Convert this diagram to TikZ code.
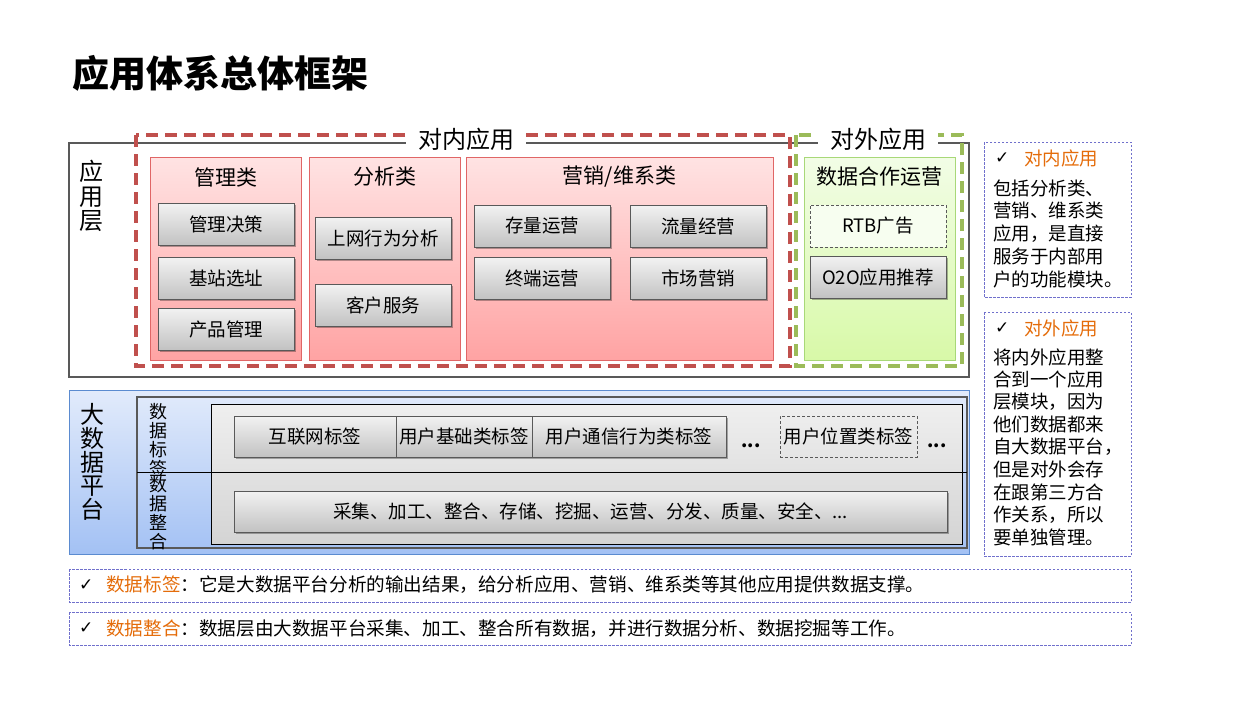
\documentclass[tikz,border=0pt]{standalone}
\usepackage{fontspec}
\setmainfont{Noto Sans CJK SC}
\newfontfamily\symfont{DejaVu Sans}
\usetikzlibrary{shadows}
\newcommand\myfs[1]{\fontsize{#1}{#1}\selectfont}
\definecolor{framegray}{HTML}{595959}
\definecolor{reddash}{HTML}{C0504D}
\definecolor{greendash}{HTML}{9BBB59}
\definecolor{redtop}{HTML}{FFE3E3}
\definecolor{redbot}{HTML}{FFA3A3}
\definecolor{redborder}{HTML}{E06666}
\definecolor{greentop}{HTML}{F2FDE6}
\definecolor{greenbot}{HTML}{D8F9A8}
\definecolor{greenborder}{HTML}{A8D878}
\definecolor{bluetop}{HTML}{E2EBFB}
\definecolor{bluebot}{HTML}{A3C1F4}
\definecolor{blueborder}{HTML}{5B8BD0}
\definecolor{gtop}{HTML}{F2F2F2}
\definecolor{gbot}{HTML}{C2C2C2}
\definecolor{ctop}{HTML}{EFEFEF}
\definecolor{cbot}{HTML}{D4D4D4}
\definecolor{notedash}{HTML}{7070CC}
\definecolor{noteorange}{HTML}{E46C0A}
\begin{document}
\begin{tikzpicture}[x=1pt,y=-1pt,
  gbox/.style={draw=framegray, line width=0.8pt, top color=gtop, bottom color=gbot,
    minimum width=136pt, minimum height=42pt, inner sep=0pt, font=\myfs{18.5},
    drop shadow={shadow xshift=1.5pt, shadow yshift=-1.5pt, opacity=0.3, fill=black}},
  dbox/.style={draw=framegray, line width=0.8pt, dash pattern=on 3pt off 2pt,
    minimum width=136pt, minimum height=42pt, inner sep=0pt, font=\myfs{18.5}},
  redpanel/.style={draw=redborder, line width=0.8pt, top color=redtop, bottom color=redbot,
    minimum height=203pt, inner sep=0pt},
  greenpanel/.style={draw=greenborder, line width=0.8pt, top color=greentop, bottom color=greenbot,
    minimum height=203pt, inner sep=0pt},
  ptitle/.style={font=\myfs{21}, inner sep=0pt},
  grouplabel/.style={fill=white, font=\myfs{24}, inner xsep=12pt, inner ysep=1pt},
  vlabel/.style={align=center, inner sep=0pt},
  notebox/.style={draw=notedash, line width=0.8pt, dash pattern=on 2.5pt off 1.5pt},
  notetext/.style={anchor=west, inner sep=0pt, font=\myfs{18.5}},
  checkmk/.style={anchor=west, inner sep=0pt, font=\symfont\bfseries\myfs{17}},
  dots/.style={inner sep=0pt, font=\bfseries\myfs{18}}
]
\useasboundingbox (0,0) rectangle (1248,720);

% title
\node[anchor=west, inner sep=0pt, font=\bfseries\myfs{37}] (title) at (72,73) {应用体系总体框架};

% application layer frame
\draw[framegray, line width=2pt] (69,143) rectangle (969,377);
\draw[reddash, line width=3.5pt, dash pattern=on 12pt off 7pt] (136,135) rectangle (790,366);
\draw[greendash, line width=3.5pt, dash pattern=on 12pt off 7pt] (796,135) rectangle (962,366);

\node[vlabel, font=\fontsize{24}{24.5}\selectfont] (yyc) at (91,196) {应\\用\\层};

% panels
\node[redpanel, minimum width=151pt] (p1) at (225.5,258.5) {};
\node[redpanel, minimum width=151pt] (p2) at (384.5,258.5) {};
\node[redpanel, minimum width=307pt] (p3) at (619.5,258.5) {};
\node[greenpanel, minimum width=151pt] (p4) at (879.5,258.5) {};

\node[ptitle] (t1) at (225.5,177) {管理类};
\node[ptitle] (t2) at (384.5,177) {分析类};
\node[ptitle] (t3) at (619.5,177) {营销/维系类};
\node[ptitle] (t4) at (879.5,177) {数据合作运营};

% boxes
\node[gbox] (b1) at (226,224) {管理决策};
\node[gbox] (b2) at (226,278.5) {基站选址};
\node[gbox] (b3) at (226,329) {产品管理};
\node[gbox] (b4) at (383,238) {上网行为分析};
\node[gbox] (b5) at (383,305) {客户服务};
\node[gbox] (b6) at (542,226) {存量运营};
\node[gbox] (b7) at (698,226) {流量经营};
\node[gbox] (b8) at (542,278.5) {终端运营};
\node[gbox] (b9) at (698,278.5) {市场营销};
\node[dbox, fill=greentop!60!white] (b10) at (878,226) {RTB广告};
\node[gbox] (b11) at (878,277) {O2O应用推荐};

% group labels
\node[grouplabel] (inner) at (466,139) {对内应用};
\node[grouplabel] (outer) at (878,139) {对外应用};

% big data platform
\draw[blueborder, line width=1pt, top color=bluetop, bottom color=bluebot] (69,390) rectangle (969,554);
\draw[framegray, line width=2pt] (137,397) rectangle (967,548);
\draw[black, line width=0.8pt, top color=ctop, bottom color=cbot] (211,404) rectangle (962,544);
\draw[black, line width=0.8pt] (137,472) -- (967,472);

\node[vlabel, font=\fontsize{24}{23.8}\selectfont] (dsj) at (92,462) {大\\数\\据\\平\\台};
\node[vlabel, font=\fontsize{18}{18.8}\selectfont] (sjbq) at (158,440) {数\\据\\标\\签};
\node[vlabel, font=\fontsize{18}{18.8}\selectfont] (sjzh) at (158,513) {数\\据\\整\\合};

\node[gbox, minimum width=162pt, minimum height=41pt] (tg1) at (315,436.5) {互联网标签};
\node[gbox, minimum width=136pt, minimum height=41pt] (tg2) at (464,436.5) {用户基础类标签};
\node[gbox, minimum width=194pt, minimum height=41pt] (tg3) at (629,436.5) {用户通信行为类标签};
\node[dots] (el1) at (751,446) {...};
\node[dbox, minimum width=137pt, minimum height=41pt] (tg4) at (848.5,436.5) {用户位置类标签};
\node[dots] (el2) at (937,446) {...};
\node[gbox, minimum width=713pt, minimum height=41pt] (bar) at (590.5,511.5) {采集、加工、整合、存储、挖掘、运营、分发、质量、安全、...};

% right notes
\draw[notebox] (984,142) rectangle (1131,297);
\node[checkmk] (ck1) at (995,158) {✓};
\node[notetext, text=noteorange] (h1) at (1024,158) {对内应用};
\foreach \t [count=\i] in {包括分析类、,营销、维系类,应用，是直接,服务于内部用,户的功能模块。}
  \node[notetext] (na\i) at (993,{188+(\i-1)*22.8}) {\t};

\draw[notebox] (984,312) rectangle (1131,556);
\node[checkmk] (ck2) at (995,328) {✓};
\node[notetext, text=noteorange] (h2) at (1024,328) {对外应用};
\foreach \t [count=\i] in {将内外应用整,合到一个应用,层模块，因为,他们数据都来,自大数据平台，,但是对外会存,在跟第三方合,作关系，所以,要单独管理。}
  \node[notetext] (nb\i) at (993,{357+(\i-1)*22.5}) {\t};

% bottom notes
\draw[notebox] (69,569) rectangle (1131,602);
\node[checkmk] (ck3) at (79,585) {✓};
\node[notetext, font=\myfs{18.6}] (bn1) at (106,585) {\textcolor{noteorange}{数据标签}：它是大数据平台分析的输出结果，给分析应用、营销、维系类等其他应用提供数据支撑。};
\draw[notebox] (69,612) rectangle (1131,645);
\node[checkmk] (ck4) at (79,628.5) {✓};
\node[notetext, font=\myfs{18.6}] (bn2) at (106,628.5) {\textcolor{noteorange}{数据整合}：数据层由大数据平台采集、加工、整合所有数据，并进行数据分析、数据挖掘等工作。};
\end{tikzpicture}
\end{document}
